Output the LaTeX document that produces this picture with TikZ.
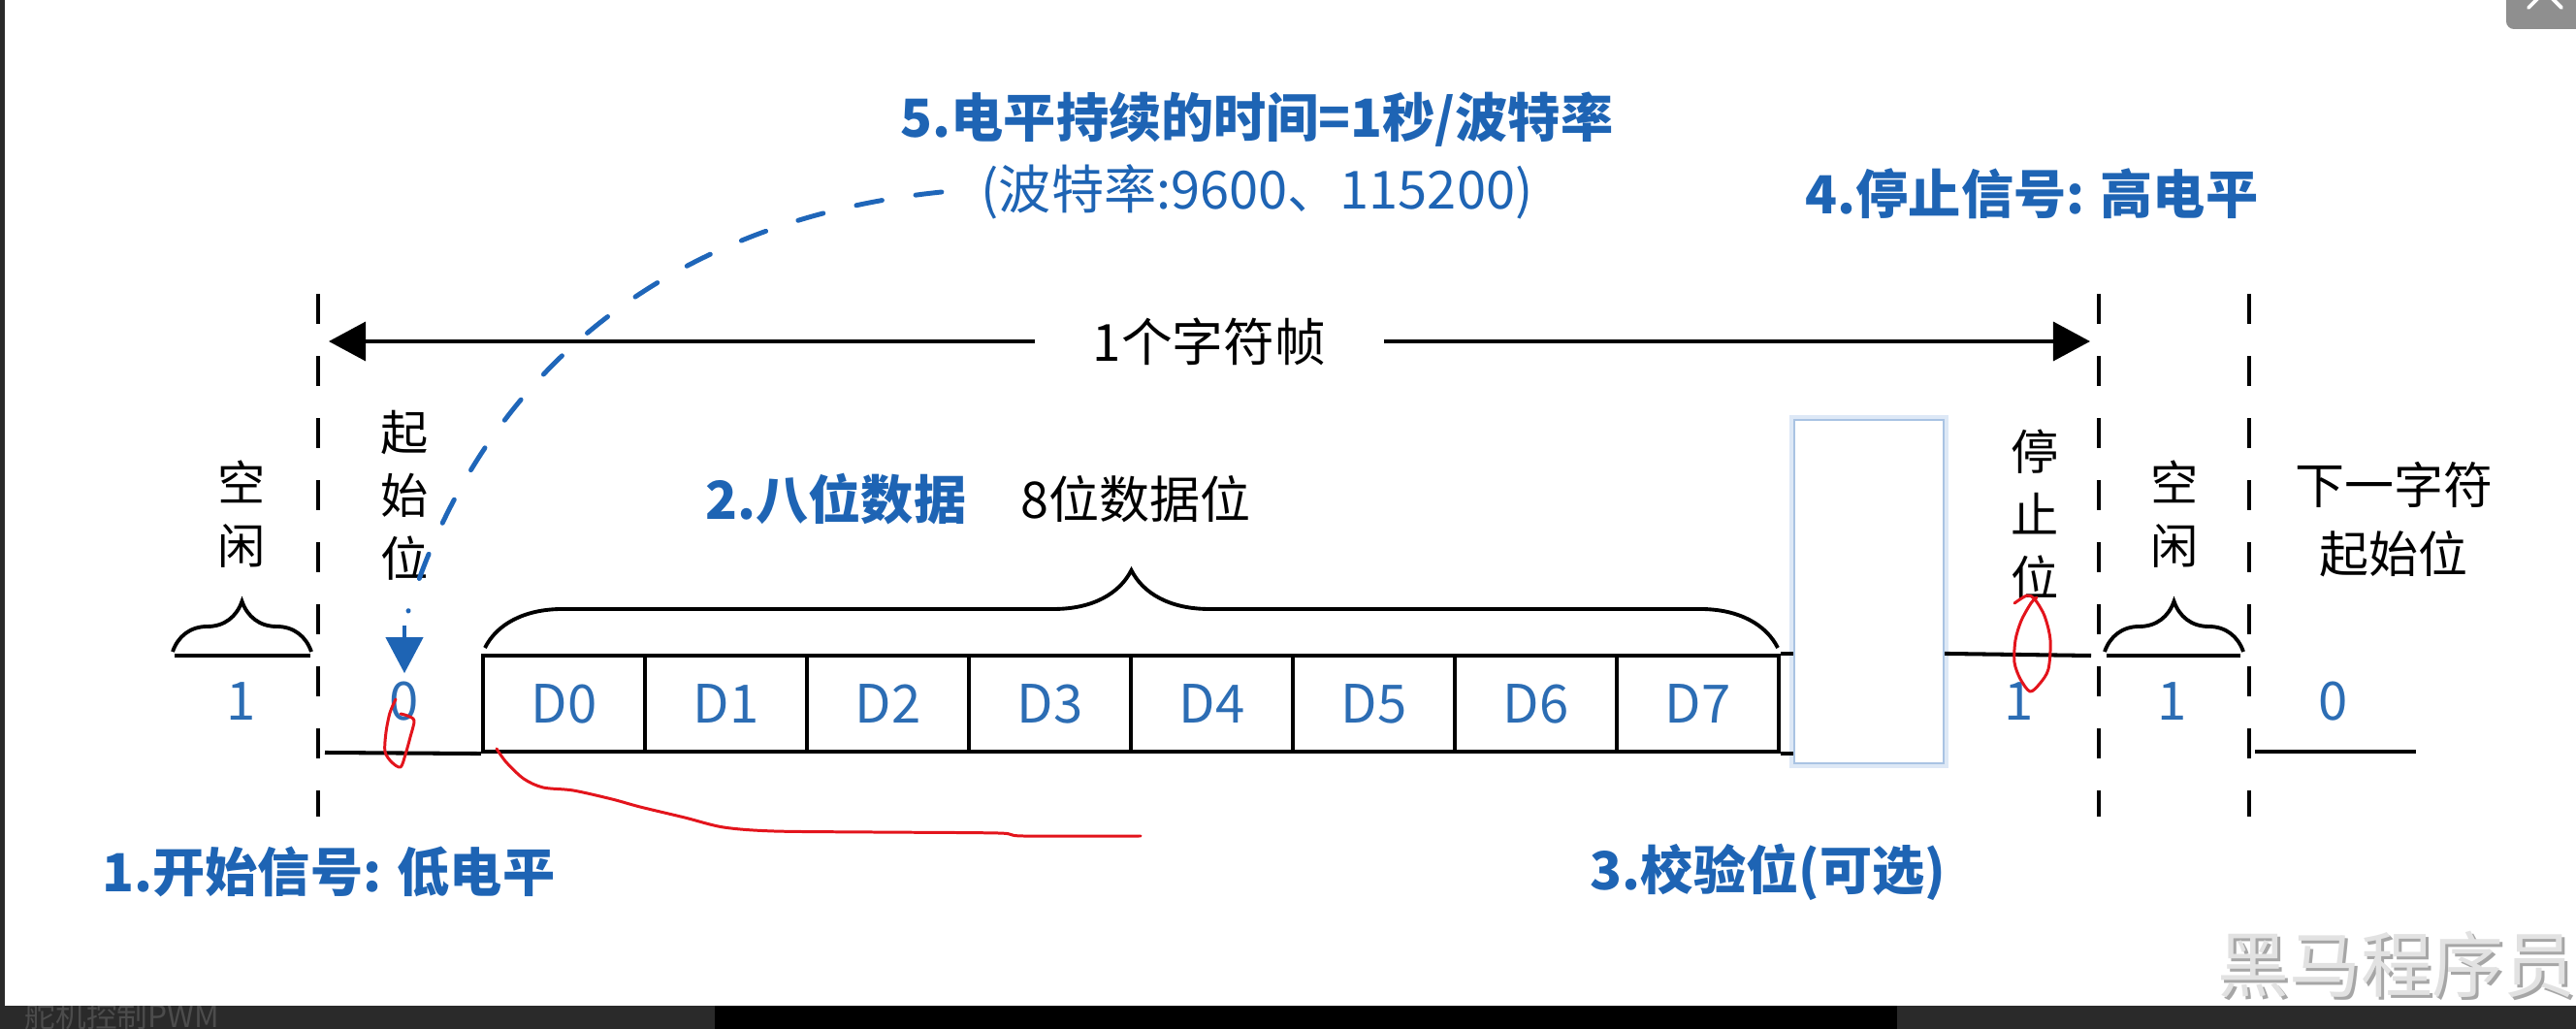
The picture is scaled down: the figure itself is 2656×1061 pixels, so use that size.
\documentclass[tikz,border=0pt]{standalone}
\usepackage{fontspec}
\setmainfont{Noto Sans CJK SC}
\usepackage{tikz}
\usetikzlibrary{arrows.meta,positioning,calc,decorations.pathreplacing}
\definecolor{UartBlue}{HTML}{1E64B4}
\definecolor{BitBlue}{HTML}{2C6DB4}
\definecolor{DashBlue}{HTML}{1F66B9}
\definecolor{PenRed}{HTML}{E3141C}
\definecolor{ParityEdge}{HTML}{A9C3E3}
\definecolor{ParityGlow}{HTML}{DDE8F6}
\definecolor{ScreenDark}{HTML}{2A2A2A}
\definecolor{TabGray}{HTML}{8F8F8F}
\definecolor{MarkGray}{HTML}{E2E2E2}
\definecolor{MarkShade}{HTML}{A6A6A6}

\begin{document}
\begin{tikzpicture}[x=0.01cm,y=-0.01cm,
  every node/.style={inner sep=0pt},
  cjk/.style={font=\fontsize{14}{18.5}\selectfont,align=center},
  note/.style={text=UartBlue,font=\fontsize{15.4}{20}\selectfont\bfseries},
  bitval/.style={text=BitBlue,font=\fontsize{15.5}{18}\selectfont},
  bitbox/.style={draw,line width=1.15pt,minimum width=1.67cm,minimum height=0.99cm,bitval},
  level/.style={line width=1.15pt},
  divider/.style={line width=1pt,dash pattern=on 0.31cm off 0.33cm},
  overbrace/.style={decorate,decoration={brace,amplitude=#1},line width=1.1pt},
  pen/.style={PenRed,line width=0.85pt,line cap=round,line join=round}]
  \useasboundingbox (0,0) rectangle (2656,1061);
  % screen behind the slide
  \fill[ScreenDark] (0,0) rectangle (2656,1061);
  \fill[black] (737,1037) rectangle (1956,1061);
  \node[text=gray!60!black,font=\fontsize{9}{10}\selectfont] (tabname) at (126,1047) {舵机控制PWM};
  \fill[white] (5,0) rectangle (2656,1037);
  \fill[TabGray,rounded corners=0.08cm] (2584,-20) rectangle (2690,30);
  \draw[white,line width=1.1pt,line cap=round] (2607,8) -- (2624,-9) -- (2641,8);

  % borders of the frame
  \foreach \x in {328,2164,2319}
    \draw[divider] (\x,303) -- (\x,842);

  \coordinate (frameL) at (339,352);
  \coordinate (frameR) at (2155,352);
  \draw[line width=1pt,{Triangle[length=0.38cm,width=0.4cm]}-{Triangle[length=0.38cm,width=0.4cm]}]
    (frameL) -- node[fill=white,inner xsep=0.6cm,inner ysep=0.1cm,font=\fontsize{15}{18}\selectfont] (framelbl) {1个字符帧} (frameR);

  % data bits and parity
  \foreach \i in {0,...,7}
    \node[bitbox] (d\i) at ({581.5+167*\i},725.5) {D\i};
  \node[draw=ParityEdge,fill=white,line width=0.6pt,preaction={draw=ParityGlow,line width=3pt},
        minimum width=1.54cm,minimum height=3.54cm] (parity) at (1927,610) {};
  \draw[level] (d7.north east) -- (d7.north east -| parity.west);
  \draw[level] (d7.south east) -- (d7.south east -| parity.west);

  % signal levels
  \draw[level] (180,676) -- (320,676);
  \draw[level] (335,776) -- (d0.south west);
  \draw[level] (parity.east |- d7.north) -- (2156,676);
  \draw[level] (2172,676) -- (2310,676);
  \draw[level] (2325,775) -- (2491,775);

  \draw[overbrace=0.52cm] (178,672) -- (321,672);
  \draw[overbrace=0.8cm] (500,668) -- (1833,668);
  \draw[overbrace=0.52cm] (2170,672) -- (2313,672);

  % labels
  \node[cjk] (idleA) at (249,530) {空\\闲};
  \node[bitval] (idleAval) at (249,723) {1};
  \node[cjk] (startlbl) at (417,511) {起\\始\\位};
  \node[bitval] (startval) at (417,723) {0};
  \node[cjk] (stoplbl) at (2098,531) {停\\止\\位};
  \node[bitval] (stopval) at (2082,723) {1};
  \node[cjk] (idleB) at (2242,530) {空\\闲};
  \node[bitval] (idleBval) at (2240,723) {1};
  \node[cjk,font=\fontsize{14.5}{20.2}\selectfont] (nextlbl) at (2468,536) {下一字符\\起始位};
  \node[bitval] (nextval) at (2406,723) {0};
  \node[cjk,font=\fontsize{14.8}{18}\selectfont] (datalbl) at (1171,515) {8位数据位};

  \node[note] (note1) at (339,899) {1.开始信号: 低电平};
  \node[note] (note2) at (862,515) {2.八位数据};
  \node[note] (note3) at (1823,899) {3.校验位(可选)};
  \node[note] (note4) at (2095,200) {4.停止信号: 高电平};
  \node[note] (note5) at (1296,123) {5.电平持续的时间=1秒/波特率};
  \node[note,font=\fontsize{15.4}{20}\selectfont] (note5b) at (1296,198) {(波特率:9600、115200)};

  % bit time hint
  \coordinate (bend) at (421,630);
  \coordinate (drop) at (417,645);
  \draw[DashBlue,line width=1.4pt,line cap=round,dash pattern=on 0.27cm off 0.35cm]
    ([xshift=-0.4cm]note5b.west) .. controls (716,224) and (505,360) .. (bend);
  \draw[UartBlue,line width=1.2pt,-{Triangle[length=0.37cm,width=0.38cm]}]
    (drop) -- ([yshift=0.08cm]startval.north);

  % pen marks
  \draw[pen] plot[smooth] coordinates {(408,721) (402,735) (398,755) (397,775) (404,786) (413,791) (418,778) (423,760) (427,743) (420,738) (413,736)};
  \draw[pen] plot[smooth] coordinates {(512,772) (522,786) (540,803) (560,812) (591,815) (631,824) (660,832) (706,843) (746,853) (798,857) (900,858) (1029,859) (1055,862) (1176,862)};
  \draw[pen] plot[smooth] coordinates {(2077,622) (2090,614) (2098,618) (2108,635) (2114,660) (2112,690) (2103,705) (2093,713) (2083,700) (2077,683) (2078,660) (2084,640) (2094,622) (2100,616)};

  % watermark
  \node[text=MarkShade,font=\fontsize{21}{24}\selectfont] (markshade) at (2474,997) {黑马程序员};
  \node[text=MarkGray,font=\fontsize{21}{24}\selectfont] (mark) at (2471,994) {黑马程序员};
\end{tikzpicture}
\end{document}
